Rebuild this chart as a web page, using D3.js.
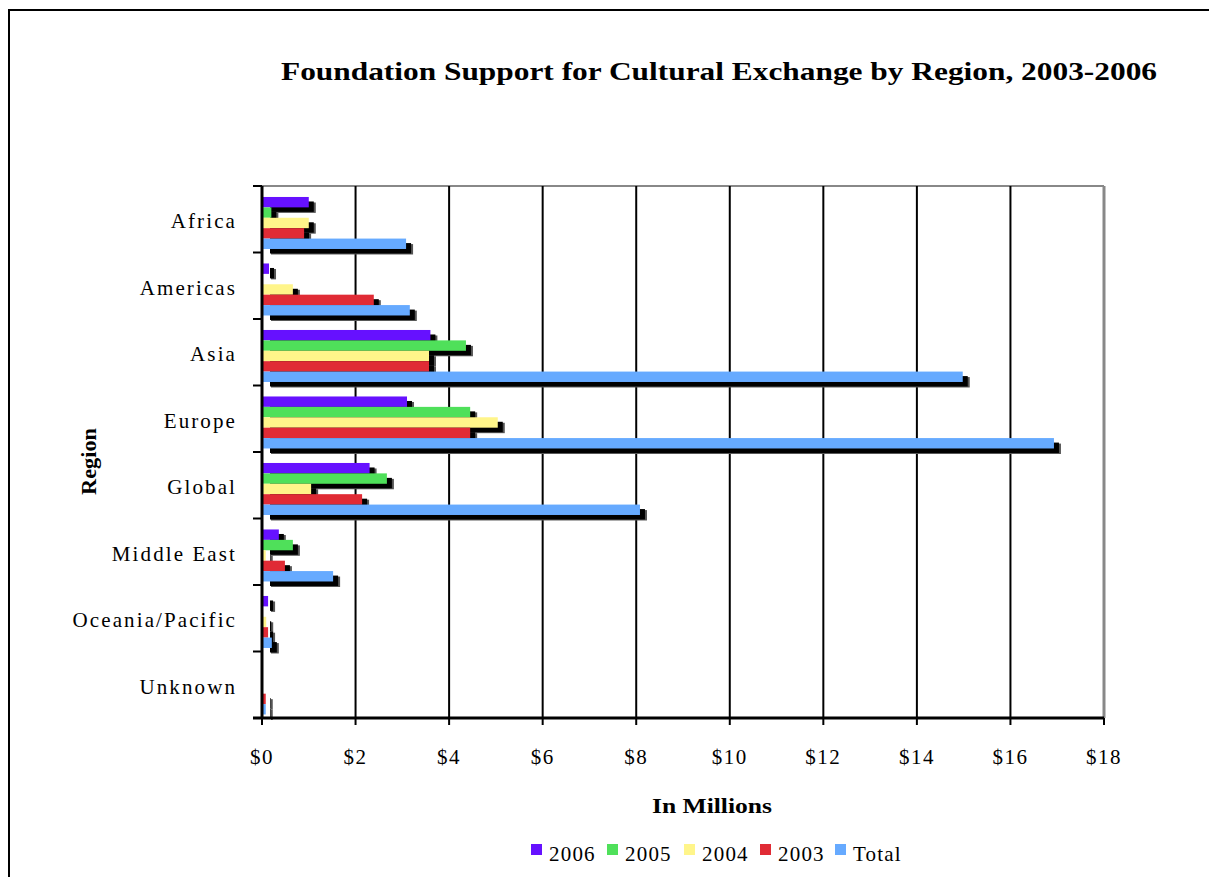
<!DOCTYPE html>
<html><head><meta charset="utf-8">
<script src="https://cdn.jsdelivr.net/npm/d3@7"></script>
<style>body{margin:0;background:#fff;} svg{display:block;}</style>
</head><body>
<svg id="chart" width="1209" height="877"></svg>
<script>
const categories = ["Africa","Americas","Asia","Europe","Global","Middle East","Oceania/Pacific","Unknown"];
const seriesNames = ["2006","2005","2004","2003","Total"];
const v2006  = [1.00, 0.15, 3.60, 3.10, 2.30, 0.36, 0.13, 0.00];
const v2005  = [0.20, 0.00, 4.36, 4.45, 2.67, 0.66, 0.00, 0.00];
const v2004  = [1.00, 0.66, 3.57, 5.04, 1.05, 0.08, 0.09, 0.00];
const v2003  = [0.90, 2.39, 3.57, 4.45, 2.14, 0.49, 0.13, 0.08];
const vTotal = [3.08, 3.16, 14.98, 16.93, 8.08, 1.52, 0.21, 0.08];
const xTicks = [0,2,4,6,8,10,12,14,16,18];
const colors = ["#6611ff","#4fe05a","#fff58a","#e02b35","#66aaff"];
const seriesValues = [v2006, v2005, v2004, v2003, vTotal];

const svg = d3.select("#chart");
const serif = "'Liberation Serif','Times New Roman',serif";
const L = 262, R = 1104, T = 186, B = 718;

// outer border
svg.append("rect").attr("x",9).attr("y",10).attr("width",1400).attr("height",1000)
  .attr("fill","none").attr("stroke","#000").attr("stroke-width",2);

const x = d3.scaleLinear().domain([0,18]).range([L,R]);
const y0 = d3.scaleBand().domain(categories).range([T,B]);
const bw = y0.bandwidth();
const y1 = d3.scaleBand().domain(seriesNames).range([bw*0.165, bw*0.947]);
const bh = y1.bandwidth();

// plot frame top/right
svg.append("line").attr("x1",L).attr("x2",R).attr("y1",T).attr("y2",T).attr("stroke","#888").attr("stroke-width",2);
svg.append("line").attr("x1",R).attr("x2",R).attr("y1",T).attr("y2",B).attr("stroke","#888").attr("stroke-width",3);

// gridlines
svg.append("g").selectAll("line").data(xTicks.filter(d=>d>0 && d<18)).join("line")
  .attr("x1",d=>x(d)).attr("x2",d=>x(d)).attr("y1",T).attr("y2",B)
  .attr("stroke","#000").attr("stroke-width",2);

const flat = [];
categories.forEach((c,i)=>seriesNames.forEach((s,j)=>flat.push({c, s, j, v: seriesValues[j][i]})));

// shadows
const sh = svg.append("g");
sh.selectAll("rect.g").data(flat).join("rect")
  .attr("x", x(0)+9).attr("y", d=>y0(d.c)+y1(d.s)+5.5)
  .attr("width", d=>Math.max(0, x(d.v)-x(0)-2)).attr("height", bh)
  .attr("fill","#555");
sh.selectAll("rect.b").data(flat).join("rect")
  .attr("x", x(0)+8).attr("y", d=>y0(d.c)+y1(d.s)+4.5)
  .attr("width", d=>Math.max(0, x(d.v)-x(0)-3)).attr("height", bh)
  .attr("fill","#000");

// bars
svg.append("g").selectAll("rect").data(flat).join("rect")
  .attr("x", x(0)+1).attr("y", d=>y0(d.c)+y1(d.s))
  .attr("width", d=>Math.max(0, x(d.v)-x(0)-1)).attr("height", bh)
  .attr("fill", d=>colors[d.j]);

// axes
svg.append("line").attr("x1",L).attr("x2",L).attr("y1",T).attr("y2",B+1).attr("stroke","#000").attr("stroke-width",3);
svg.append("line").attr("x1",L-9).attr("x2",R).attr("y1",B).attr("y2",B).attr("stroke","#000").attr("stroke-width",3);

// y ticks at band boundaries
svg.append("g").selectAll("line").data(categories).join("line")
  .attr("x1",L-9).attr("x2",L).attr("y1",d=>y0(d)+bw).attr("y2",d=>y0(d)+bw)
  .attr("stroke","#000").attr("stroke-width",2);
svg.append("line").attr("x1",L-9).attr("x2",L).attr("y1",T).attr("y2",T).attr("stroke","#000").attr("stroke-width",2);

// x ticks
svg.append("g").selectAll("line").data(xTicks).join("line")
  .attr("x1",d=>x(d)).attr("x2",d=>x(d)).attr("y1",B).attr("y2",B+7)
  .attr("stroke","#000").attr("stroke-width",2);

// x tick labels
svg.append("g").selectAll("text").data(xTicks).join("text")
  .attr("x",d=>x(d)).attr("y",B+46).attr("text-anchor","middle")
  .attr("font-family",serif).attr("font-size",21).attr("letter-spacing",1.5)
  .text(d=>"$"+d);

// category labels
svg.append("g").selectAll("text").data(categories).join("text")
  .attr("x",237).attr("y",d=>y0(d)+bw/2+9).attr("text-anchor","end")
  .attr("font-family",serif).attr("font-size",21).attr("letter-spacing",2.1)
  .text(d=>d);

// title
svg.append("text").attr("x",281).attr("y",80)
  .attr("font-family",serif).attr("font-weight","bold").attr("font-size",25)
  .attr("textLength",876).attr("lengthAdjust","spacingAndGlyphs")
  .text("Foundation Support for Cultural Exchange by Region, 2003-2006");

// axis titles
svg.append("text").attr("x",652).attr("y",813)
  .attr("font-family",serif).attr("font-weight","bold").attr("font-size",20)
  .attr("textLength",120).attr("lengthAdjust","spacingAndGlyphs")
  .text("In Millions");
svg.append("text").attr("transform","translate(96,495) rotate(-90)")
  .attr("font-family",serif).attr("font-weight","bold").attr("font-size",20)
  .attr("textLength",67).attr("lengthAdjust","spacingAndGlyphs")
  .text("Region");

// legend
const legX = [531,607,684,760,835];
const lg = svg.append("g").selectAll("g").data(seriesNames).join("g")
  .attr("transform",(d,i)=>`translate(${legX[i]},844)`);
lg.append("rect").attr("width",11).attr("height",11).attr("fill",(d,i)=>colors[i]);
lg.append("text").attr("x",18).attr("y",17).attr("font-family",serif).attr("font-size",21)
  .attr("letter-spacing",1.2).text(d=>d);
</script>
</body></html>
